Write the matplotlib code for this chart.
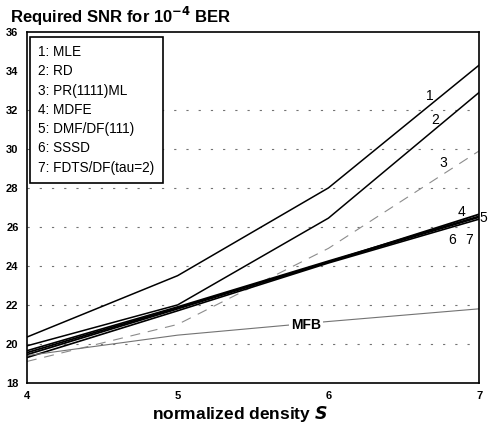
"""
Required SNR for 1e-4 BER versus normalized density for several detectors.
"""
import matplotlib
matplotlib.use("Agg")
import matplotlib.pyplot as plt
from matplotlib.lines import Line2D

# ---- data ---------------------------------------------------------------
density = [4, 5, 6, 7]
snr_mle = [20.35, 23.5, 28.0, 34.3]      # 1: MLE
snr_rd = [19.9, 22.0, 26.45, 32.9]       # 2: RD
snr_pr = [19.1, 21.0, 24.9, 29.9]        # 3: PR(1111)ML
snr_mdfe = [19.55, 21.85, 24.2, 26.65]   # 4: MDFE
snr_dmf = [19.45, 21.8, 24.2, 26.5]      # 5: DMF/DF(111)
snr_sssd = [19.3, 21.7, 24.15, 26.4]     # 6: SSSD
snr_fdts = [19.65, 21.9, 24.25, 26.55]   # 7: FDTS/DF(tau=2)
snr_mfb = [19.4, 20.45, 21.15, 21.8]     # matched filter bound

legend_labels = ["1: MLE", "2: RD", "3: PR(1111)ML", "4: MDFE",
                 "5: DMF/DF(111)", "6: SSSD", "7: FDTS/DF(tau=2)"]
grid_levels = [20, 22, 24, 26, 28, 30, 32]
y_ticks = [18, 20, 22, 24, 26, 28, 30, 32, 34, 36]
x_ticks = [4, 5, 6, 7]

# curve tags: (text, x, y)
curve_tags = [("1", 6.67, 32.7), ("2", 6.71, 31.5), ("3", 6.76, 29.3),
              ("4", 6.88, 26.75), ("5", 7.03, 26.45),
              ("6", 6.82, 25.35), ("7", 6.93, 25.35)]

plt.rcParams["font.family"] = ["Liberation Sans", "DejaVu Sans"]

fig = plt.figure(figsize=(4.88, 4.25), dpi=100)
ax = fig.add_axes([0.055, 0.099, 0.927, 0.826])

# dashed horizontal guide lines
for lvl in grid_levels:
    ax.axhline(lvl, color="0.45", lw=0.8, ls=(0, (2, 9)), zorder=1)

ax.plot(density, snr_mle, color="black", lw=1.1)
ax.plot(density, snr_rd, color="black", lw=1.1)
ax.plot(density, snr_pr, color="0.55", lw=0.8, ls=(0, (9, 7)))
ax.plot(density, snr_mdfe, color="black", lw=1.3)
ax.plot(density, snr_dmf, color="black", lw=1.3)
ax.plot(density, snr_sssd, color="black", lw=1.2)
ax.plot(density, snr_fdts, color="black", lw=1.2)
ax.plot(density, snr_mfb, color="0.45", lw=0.8)

for txt, tx, ty in curve_tags:
    ax.text(tx, ty, txt, fontsize=10, ha="center", va="center",
            clip_on=False)
ax.text(5.85, 20.97, "MFB", fontsize=10, fontweight="bold",
        ha="center", va="center",
        bbox=dict(facecolor="white", edgecolor="none", pad=1.5))

ax.set_xlim(4, 7)
ax.set_ylim(18, 36)
ax.set_xticks(x_ticks)
ax.set_yticks(y_ticks)
ax.tick_params(length=0, labelsize=8)
ax.tick_params(axis="x", pad=6)
ax.tick_params(axis="y", pad=6)
for lab in ax.get_xticklabels() + ax.get_yticklabels():
    lab.set_fontweight("bold")
for sp in ax.spines.values():
    sp.set_linewidth(1.2)

handles = [Line2D([], [], linestyle="none") for _ in legend_labels]
leg = ax.legend(handles, legend_labels, loc="upper left",
                bbox_to_anchor=(0.007, 0.986), borderaxespad=0,
                handlelength=0, handletextpad=0, fontsize=9.8,
                labelspacing=0.39, fancybox=False, framealpha=1,
                borderpad=0.6)
leg.get_frame().set_edgecolor("black")
leg.get_frame().set_linewidth(1.2)

fig.text(0.02, 1 - 23 / 425, r"Required SNR for 10$^{\mathbf{-4}}$ BER",
         fontsize=12, fontweight="bold", ha="left", va="baseline")
fig.text(240 / 488, 6 / 425, r"normalized density $\boldsymbol{S}$",
         fontsize=12.5, fontweight="bold", ha="center", va="baseline")

fig.savefig("out.png", dpi=100)
